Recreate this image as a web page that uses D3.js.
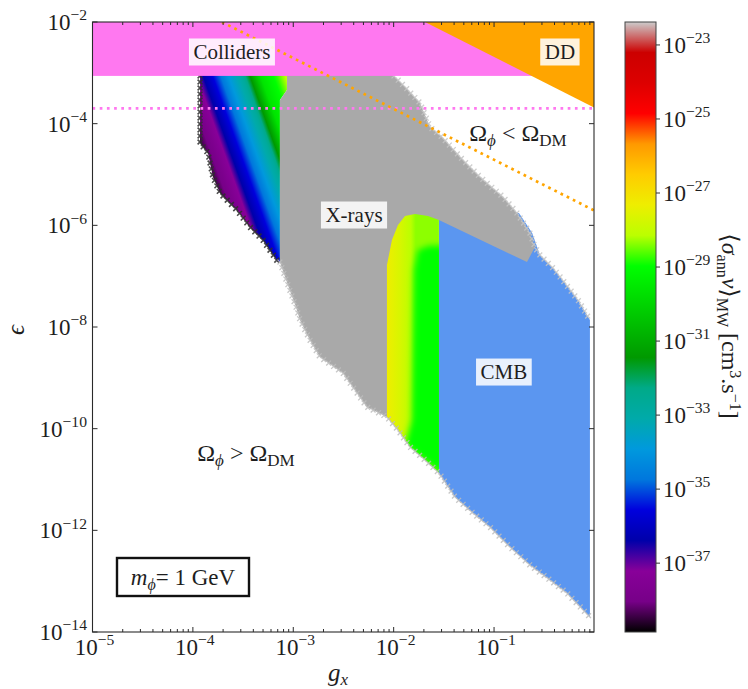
<!DOCTYPE html>
<html>
<head>
<meta charset="utf-8">
<script src="https://cdn.jsdelivr.net/npm/d3@7/dist/d3.min.js"></script>
<style>
  html, body { margin: 0; padding: 0; background: #fff; }
  svg text { font-family: "Liberation Serif", "DejaVu Serif", serif; fill: #1e1e1e; }
</style>
</head>
<body>
<svg id="chart" width="748" height="689"></svg>
<script>
// ---------- axis ranges and ticks ----------
const gxRange = [1e-5, 0.99];
const epsRange = [1e-14, 1e-2];
const sigmaRange = [Math.pow(10, -38.86), Math.pow(10, -22.38)];
const xTickExps = [-5, -4, -3, -2, -1];
const yTickExps = [-14, -12, -10, -8, -6, -4, -2];
const cbTickExps = [-37, -35, -33, -31, -29, -27, -25, -23];

// ---------- regions, vertices given as [log10 g_x, log10 eps] ----------
// low-g_x relic band coloured by <sigma v>
const bandLow = [
  [-3.929, -2], [-3.063, -2], [-3.063, -3.338], [-3.133, -3.535], [-3.133, -6.722],
  [-3.152, -6.722], [-3.302, -6.289], [-3.431, -6.033], [-3.561, -5.699],
  [-3.730, -5.364], [-3.800, -5.049], [-3.850, -4.577], [-3.929, -4.380]
];
// axis of the <sigma v> gradient across that band, and log10 <sigma v> along it
const bandLowAxis = [[-3.856, -5.108], [-2.823, -4.379]];
const bandLowStops = [
  [0.000, -38.86], [0.136, -37.87], [0.227, -37.21], [0.282, -36.39], [0.364, -35.56],
  [0.500, -33.92], [0.618, -32.76], [0.682, -31.44], [0.773, -29.63], [0.909, -28.81], [1.000, -27.98]
];
// X-ray exclusion
const xrays = [
  [-3.063, -2], [-1.997, -2], [-1.997, -3.062], [-1.877, -3.298], [-1.738, -3.594],
  [-1.638, -4.066], [-1.519, -4.262], [-1.310, -4.715], [-1.140, -5.049], [-0.911, -5.443],
  [-0.772, -5.758], [-0.643, -6.151], [-0.593, -6.427], [-0.672, -6.722], [-1.549, -5.895],
  [-1.900, -6.000], [-1.900, -9.900], [-2.067, -9.771], [-2.266, -9.574], [-2.385, -9.240], [-2.505, -8.905],
  [-2.734, -8.591], [-2.834, -8.256], [-2.933, -7.863], [-2.973, -7.607], [-3.053, -7.174],
  [-3.133, -6.722], [-3.133, -3.535], [-3.063, -3.338]
];
// CMB exclusion
const cmb = [
  [-1.549, -5.895], [-1.000, -5.600], [-0.750, -5.760], [-0.620, -6.150], [-0.570, -6.430],
  [-0.543, -6.584], [-0.413, -6.840], [-0.294, -7.135], [-0.164, -7.469], [-0.045, -7.863],
  [-0.045, -13.706], [-0.274, -13.234], [-0.443, -12.978], [-0.642, -12.683], [-0.841, -12.329],
  [-1.041, -11.935], [-1.210, -11.660], [-1.389, -11.345], [-1.549, -10.873]
];
// high-g_x relic stripe coloured by <sigma v>
const bandHigh = [
  [-2.067, -9.771], [-2.067, -6.781], [-2.017, -6.289], [-1.957, -5.994], [-1.887, -5.817],
  [-1.788, -5.777], [-1.658, -5.817], [-1.549, -5.895], [-1.549, -10.873], [-1.688, -10.617],
  [-1.837, -10.361], [-1.957, -10.027]
];
const bandHighAxis = [[-2.067, -8], [-1.780, -8]];
const bandHighStops = [[0.00, -27.30], [0.45, -27.70], [1.00, -28.35]];
const bandHighCore = [
  [-1.758, -6.486], [-1.650, -6.400], [-1.439, -6.400], [-1.439, -11.010],
  [-1.887, -10.322], [-1.817, -9.830], [-1.798, -6.879]
];
const bandHighCoreSigma = -28.97;

// outer edges of the scanned parameter space
const lowerEdgeLeft = [
  [-3.929, -3.062], [-3.929, -4.380], [-3.850, -4.577], [-3.800, -5.049], [-3.730, -5.364],
  [-3.561, -5.699], [-3.431, -6.033], [-3.302, -6.289], [-3.152, -6.722]
];
const lowerEdgeRight = [
  [-3.133, -6.722], [-3.053, -7.174], [-2.973, -7.607], [-2.933, -7.863], [-2.834, -8.256],
  [-2.734, -8.591], [-2.505, -8.905], [-2.385, -9.240], [-2.266, -9.574], [-2.067, -9.771],
  [-1.957, -10.027], [-1.837, -10.361], [-1.688, -10.617], [-1.549, -10.873], [-1.389, -11.345],
  [-1.210, -11.660], [-1.041, -11.935], [-0.841, -12.329], [-0.642, -12.683], [-0.443, -12.978],
  [-0.274, -13.234], [-0.045, -13.706]
];
const upperEdge = [
  [-1.997, -3.062], [-1.877, -3.298], [-1.738, -3.594], [-1.638, -4.066], [-1.519, -4.262],
  [-1.310, -4.715], [-1.140, -5.049], [-0.911, -5.443], [-0.772, -5.758], [-0.643, -6.151],
  [-0.593, -6.427], [-0.543, -6.584], [-0.413, -6.840], [-0.294, -7.135], [-0.164, -7.469],
  [-0.045, -7.863]
];

// experimental bounds
const collidersEps = [8.7e-4, 1e-2];
const ddRegion = [[-1.688, -2], [-0.0044, -2], [-0.0044, -3.684]];
const pinkLineEps = 2.0e-4;
const orangeLine = [[-3.71, -2], [-0.0044, -5.706]];

// text labels: [text, log10 g_x, log10 eps]
const boxedLabels = [
  ["Colliders", -3.611, -2.59],
  ["DD", -0.344, -2.59],
  ["X-rays", -2.395, -5.797],
  ["CMB", -0.902, -8.886]
];

// nipy_spectral colormap nodes
const nipyPos = [0, .05, .1, .15, .2, .25, .3, .35, .4, .45, .5, .55, .6, .65, .7, .75, .8, .85, .9, .95, 1];
const nipyR = [0, .4667, .5333, 0, 0, 0, 0, 0, 0, 0, 0, 0, 0, .7333, .9333, 1, 1, 1, .8667, .8, .8];
const nipyG = [0, 0, 0, 0, 0, .4667, .6, .6667, .6667, .6, .7333, .8667, 1, 1, .9333, .8, .6, 0, 0, 0, .8];
const nipyB = [0, .5333, .6, .6667, .8667, .8667, .8667, .6667, .5333, 0, 0, 0, 0, 0, 0, 0, 0, 0, 0, 0, .8];

// ---------- layout ----------
const X0 = 92.5, X1 = 594, Y0 = 22, Y1 = 632;
const CB = { x0: 625, x1: 656 };
const colors = {
  gray: "#a9a9a9", blue: "#5b96f0", pink: "#ff78f0", orange: "#ffa500",
  spine: "#2a2a2a", text: "#1e1e1e"
};

const x = d3.scaleLog().domain(gxRange).range([X0, X1]);
const y = d3.scaleLog().domain(epsRange).range([Y1, Y0]);
const P = d => [x(Math.pow(10, d[0])), y(Math.pow(10, d[1]))];

const nipy = d3.scaleLinear().domain(nipyPos)
  .range(nipyPos.map((_, i) => d3.rgb(nipyR[i] * 255, nipyG[i] * 255, nipyB[i] * 255).toString()))
  .interpolate(d3.interpolateRgb).clamp(true);
const sigmaFrac = d3.scaleLog().domain(sigmaRange).range([0, 1]).clamp(true);
const colorOfLog = s => nipy(sigmaFrac(Math.pow(10, s)));

const svg = d3.select("#chart");
const defs = svg.append("defs");

defs.append("clipPath").attr("id", "plotClip")
  .append("rect").attr("x", X0).attr("y", Y0).attr("width", X1 - X0).attr("height", Y1 - Y0);

const polyPath = pts => d3.line()(pts.map(P)) + "Z";

// linear gradient whose stops follow the colormap between given <sigma v> values
function sigmaGradient(id, axis, stops) {
  const [ax, ay] = P(axis[0]), [bx, by] = P(axis[1]);
  const g = defs.append("linearGradient").attr("id", id)
    .attr("gradientUnits", "userSpaceOnUse")
    .attr("x1", ax).attr("y1", ay).attr("x2", bx).attr("y2", by);
  const list = [];
  stops.forEach((s, i) => {
    const f1 = sigmaFrac(Math.pow(10, s[1]));
    list.push([s[0], f1]);
    if (i < stops.length - 1) {
      const n = stops[i + 1];
      const f2 = sigmaFrac(Math.pow(10, n[1]));
      nipyPos.forEach(p => {
        if ((p - f1) * (p - f2) < 0) list.push([s[0] + (n[0] - s[0]) * (p - f1) / (f2 - f1), p]);
      });
    }
  });
  list.sort((a, b) => a[0] - b[0]);
  list.forEach(([o, f]) => g.append("stop").attr("offset", o).attr("stop-color", nipy(f)));
}

sigmaGradient("gradLow", bandLowAxis, bandLowStops);
sigmaGradient("gradHigh", bandHighAxis, bandHighStops);

defs.append("clipPath").attr("id", "highClip").append("path").attr("d", polyPath(bandHigh));
defs.append("filter").attr("id", "soft").attr("x", "-20%").attr("y", "-20%").attr("width", "140%").attr("height", "140%")
  .append("feGaussianBlur").attr("stdDeviation", 3);

const plot = svg.append("g").attr("clip-path", "url(#plotClip)");

plot.append("path").attr("d", polyPath(bandLow)).attr("fill", "url(#gradLow)");
plot.append("path").attr("d", polyPath(cmb)).attr("fill", colors.blue);
plot.append("path").attr("d", polyPath(xrays)).attr("fill", colors.gray);
plot.append("path").attr("d", polyPath(bandHigh)).attr("fill", "url(#gradHigh)");
plot.append("g").attr("clip-path", "url(#highClip)")
  .append("path").attr("d", polyPath(bandHighCore))
  .attr("fill", colorOfLog(bandHighCoreSigma)).attr("filter", "url(#soft)");

// scatter markers along the edges of the scanned region
function sampleLine(pts, step) {
  const px = pts.map(P), out = [];
  let carry = 0;
  for (let i = 0; i < px.length - 1; i++) {
    const [ax, ay] = px[i], [bx, by] = px[i + 1];
    const L = Math.hypot(bx - ax, by - ay);
    let t = carry;
    while (t <= L) { out.push([ax + (bx - ax) * t / L, ay + (by - ay) * t / L]); t += step; }
    carry = t - L;
  }
  return out;
}
const xMark = "M-2.4,-2.4L2.4,2.4M-2.4,2.4L2.4,-2.4";
[[lowerEdgeLeft, "#2e2e2e", 1.6], [lowerEdgeRight, "#bdbdbd", 1.3], [upperEdge, "#c6c6c6", 1.3]].forEach(([edge, c, w]) => {
  plot.append("g").selectAll("path").data(sampleLine(edge, 6)).join("path")
    .attr("d", xMark).attr("transform", d => `translate(${d[0]},${d[1]})`)
    .attr("stroke", c).attr("stroke-width", w).attr("fill", "none").attr("opacity", 0.85);
});

// colliders band and direct detection
plot.append("rect")
  .attr("x", X0).attr("width", X1 - X0)
  .attr("y", y(collidersEps[1])).attr("height", y(collidersEps[0]) - y(collidersEps[1]))
  .attr("fill", colors.pink);
plot.append("path").attr("d", polyPath(ddRegion)).attr("fill", colors.orange);

// dotted bounds
plot.append("line")
  .attr("x1", X0).attr("x2", X1).attr("y1", y(pinkLineEps)).attr("y2", y(pinkLineEps))
  .attr("stroke", colors.pink).attr("stroke-width", 2.7).attr("stroke-dasharray", "2.7 4.5");
plot.append("path").attr("d", d3.line()(orangeLine.map(P)))
  .attr("stroke", colors.orange).attr("stroke-width", 2.7).attr("stroke-dasharray", "2.7 4.2").attr("fill", "none");

// boxed region labels
const lab = svg.append("g");
boxedLabels.forEach(([t, lx, ly]) => {
  const [cx, cy] = P([lx, ly]);
  const g = lab.append("g");
  const txt = g.append("text").attr("x", cx).attr("y", cy + 7).attr("text-anchor", "middle")
    .attr("font-size", 21).text(t);
  const bb = txt.node().getBBox();
  g.insert("rect", "text")
    .attr("x", bb.x - 4.5).attr("y", cy - 13.5).attr("width", bb.width + 9).attr("height", 27)
    .attr("fill", "#fff").attr("opacity", 0.86);
});

// relic abundance labels
function omegaLabel(lx, ly, rel) {
  const [cx, cy] = P([lx, ly]);
  const t = lab.append("text").attr("x", cx).attr("y", cy + 8).attr("text-anchor", "middle").attr("font-size", 24);
  t.append("tspan").text("Ω");
  t.append("tspan").attr("font-size", 17).attr("font-style", "italic").attr("dy", 5).text("ϕ");
  t.append("tspan").attr("dy", -5).text(" " + rel + " Ω");
  t.append("tspan").attr("font-size", 17).attr("dy", 5).text("DM");
}
omegaLabel(-3.471, -10.479, ">");
omegaLabel(-0.762, -4.184, "<");

// mass box
{
  const [cx, cy] = P([-4.099, -12.919]);
  const g = lab.append("g");
  const t = g.append("text").attr("x", cx).attr("y", cy + 8).attr("text-anchor", "middle").attr("font-size", 23);
  t.append("tspan").attr("font-style", "italic").text("m");
  t.append("tspan").attr("font-style", "italic").attr("font-size", 16).attr("dy", 5).text("ϕ");
  t.append("tspan").attr("dy", -5).text("= 1 GeV");
  g.insert("rect", "text").attr("x", 117).attr("y", 558).attr("width", 132).attr("height", 38)
    .attr("fill", "#fff").attr("stroke", "#111").attr("stroke-width", 2.4);
}

// ---------- axes frame and ticks ----------
const ax = svg.append("g");
const xMajor = xTickExps.map(e => Math.pow(10, e));
const xMinor = [];
for (let e = -5; e <= -1; e++) for (let m = 2; m <= 9; m++) {
  const v = m * Math.pow(10, e);
  if (v <= gxRange[1]) xMinor.push(v);
}
const yMajor = yTickExps.map(e => Math.pow(10, e));

const tickStroke = s => s.attr("stroke", colors.spine).attr("stroke-width", 1);
xMajor.forEach(v => {
  tickStroke(ax.append("line").attr("x1", x(v)).attr("x2", x(v)).attr("y1", Y1).attr("y2", Y1 - 5));
  tickStroke(ax.append("line").attr("x1", x(v)).attr("x2", x(v)).attr("y1", Y0).attr("y2", Y0 + 5));
});
xMinor.forEach(v => {
  tickStroke(ax.append("line").attr("x1", x(v)).attr("x2", x(v)).attr("y1", Y1).attr("y2", Y1 - 3));
  tickStroke(ax.append("line").attr("x1", x(v)).attr("x2", x(v)).attr("y1", Y0).attr("y2", Y0 + 3));
});
yMajor.forEach(v => {
  tickStroke(ax.append("line").attr("x1", X0).attr("x2", X0 + 5).attr("y1", y(v)).attr("y2", y(v)));
  tickStroke(ax.append("line").attr("x1", X1).attr("x2", X1 - 5).attr("y1", y(v)).attr("y2", y(v)));
});
ax.append("rect").attr("x", X0).attr("y", Y0).attr("width", X1 - X0).attr("height", Y1 - Y0)
  .attr("fill", "none").attr("stroke", colors.spine).attr("stroke-width", 1.1);

function powLabel(sel, e, size) {
  sel.append("tspan").text("10");
  sel.append("tspan").attr("font-size", size * 0.68).attr("dy", -size * 0.42).text("−" + Math.abs(e));
}
xTickExps.forEach(e => {
  const t = ax.append("text").attr("x", x(Math.pow(10, e)) + 2).attr("y", 655)
    .attr("text-anchor", "middle").attr("font-size", 23).attr("fill", "#2a2a2a");
  powLabel(t, e, 23);
});
yTickExps.forEach(e => {
  const t = ax.append("text").attr("x", 87).attr("y", y(Math.pow(10, e)) + 8)
    .attr("text-anchor", "end").attr("font-size", 23).attr("fill", "#2a2a2a");
  powLabel(t, e, 23);
});

// axis titles
{
  const t = ax.append("text").attr("x", 338).attr("y", 681).attr("text-anchor", "middle").attr("font-size", 25);
  t.append("tspan").attr("font-style", "italic").text("g");
  t.append("tspan").attr("font-style", "italic").attr("font-size", 17).attr("dy", 4).text("x");
  ax.append("text").attr("transform", "translate(24,330) rotate(-90)").attr("text-anchor", "middle")
    .attr("font-size", 25).attr("font-style", "italic").text("ϵ");
}

// ---------- colorbar ----------
const cbY = d3.scaleLog().domain(sigmaRange).range([Y1, Y0]);
const cbGrad = defs.append("linearGradient").attr("id", "cbGrad")
  .attr("gradientUnits", "userSpaceOnUse").attr("x1", 0).attr("x2", 0).attr("y1", Y1).attr("y2", Y0);
nipyPos.forEach(p => cbGrad.append("stop").attr("offset", p).attr("stop-color", nipy(p)));
const cb = svg.append("g");
cb.append("rect").attr("x", CB.x0).attr("y", Y0).attr("width", CB.x1 - CB.x0).attr("height", Y1 - Y0)
  .attr("fill", "url(#cbGrad)").attr("stroke", "#444").attr("stroke-width", 1);
cbTickExps.forEach(e => {
  const yy = cbY(Math.pow(10, e));
  cb.append("line").attr("x1", CB.x1).attr("x2", CB.x1 + 4).attr("y1", yy).attr("y2", yy)
    .attr("stroke", "#333").attr("stroke-width", 1);
  const t = cb.append("text").attr("x", CB.x1 + 7).attr("y", yy + 8).attr("font-size", 23).attr("fill", "#2a2a2a");
  powLabel(t, e, 23);
});
{
  const t = cb.append("text").attr("transform", "translate(722,326) rotate(90)")
    .attr("text-anchor", "middle").attr("font-size", 24);
  t.append("tspan").text("⟨");
  t.append("tspan").attr("font-style", "italic").text("σ");
  t.append("tspan").attr("font-size", 16).attr("dy", 5).text("ann");
  t.append("tspan").attr("font-style", "italic").attr("dy", -5).text("v");
  t.append("tspan").text("⟩");
  t.append("tspan").attr("font-size", 16).attr("dy", 5).text("MW");
  t.append("tspan").attr("dy", -5).text(" [cm");
  t.append("tspan").attr("font-size", 16).attr("dy", -8).text("3");
  t.append("tspan").attr("dy", 8).text(".s");
  t.append("tspan").attr("font-size", 16).attr("dy", -8).text("−1");
  t.append("tspan").attr("dy", 8).text("]");
}
</script>
</body>
</html>
